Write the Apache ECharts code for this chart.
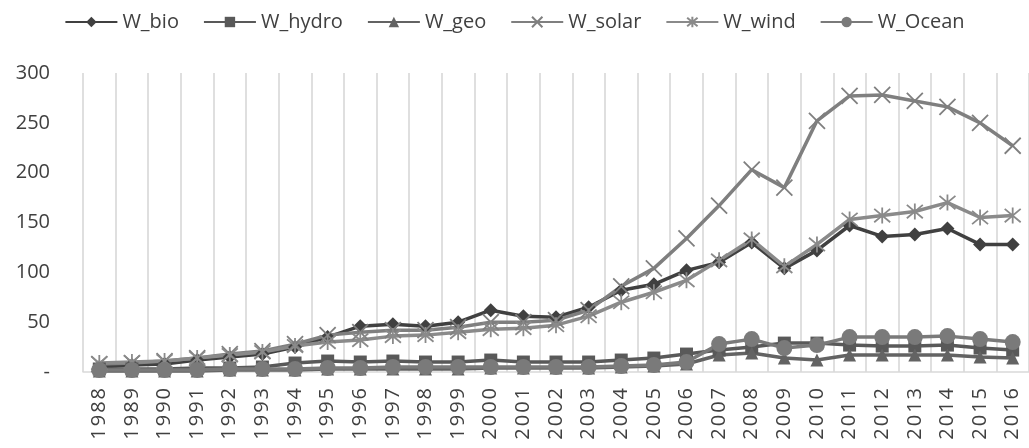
<!DOCTYPE html>
<html>
<head>
<meta charset="utf-8">
<script src="https://cdn.jsdelivr.net/npm/echarts@6/dist/echarts.min.js"></script>
<style>
  html, body { margin: 0; padding: 0; background: #fff; }
  #chart { width: 1029px; height: 448px; }
</style>
</head>
<body>
<div id="chart"></div>
<script>
// ─── Data ───────────────────────────────────────────────────────────────────
const years = [
  '1988', '1989', '1990', '1991', '1992', '1993', '1994', '1995', '1996', '1997',
  '1998', '1999', '2000', '2001', '2002', '2003', '2004', '2005', '2006', '2007',
  '2008', '2009', '2010', '2011', '2012', '2013', '2014', '2015', '2016',
];

const wBio   = [5, 7, 8, 12, 15, 18, 25, 35, 46, 48, 46, 50, 62, 56, 55, 65, 82, 88, 102, 110, 130, 104, 122, 147, 136, 138, 144, 128, 128];
const wHydro = [3, 3, 3, 4, 4, 5, 9, 11, 10, 11, 10, 10, 12, 10, 10, 10, 12, 14, 18, 22, 25, 29, 29, 27, 26, 26, 27, 24, 22];
const wGeo   = [1, 1, 1, 1, 2, 2, 2, 3, 3, 3, 3, 3, 4, 4, 4, 4, 5, 6, 8, 17, 19, 14, 12, 17, 17, 17, 17, 15, 14];
const wSolar = [8, 9, 11, 14, 18, 21, 28, 37, 40, 42, 42, 45, 50, 50, 52, 62, 86, 104, 134, 167, 203, 185, 252, 277, 278, 272, 266, 250, 227];
const wWind  = [9, 10, 11, 14, 17, 20, 26, 30, 32, 36, 37, 40, 43, 44, 47, 56, 70, 80, 92, 112, 133, 106, 128, 153, 157, 161, 170, 155, 157];
const wOcean = [2, 2, 2, 2, 3, 3, 3, 4, 4, 5, 5, 5, 5, 5, 5, 5, 6, 7, 10, 28, 33, 24, 27, 35, 35, 35, 36, 33, 30];

const yTicks = [0, 50, 100, 150, 200, 250, 300];

// ─── Styling ────────────────────────────────────────────────────────────────
const FONT = '"Open Sans", "Liberation Sans", Arial, sans-serif';
const X_PATH = 'path://M0,0L10,10M10,0L0,10';
const STAR_PATH = 'path://M0,0L10,10M10,0L0,10M5,-1L5,11';

function filled(name, data, color, symbol, size) {
  return {
    name, type: 'line', data,
    symbol, symbolSize: size, showAllSymbol: true,
    lineStyle: { color, width: 3.5 },
    itemStyle: { color },
    emphasis: { disabled: true },
  };
}

function stroked(name, data, color, symbol, size) {
  return {
    name, type: 'line', data,
    symbol, symbolSize: size, showAllSymbol: true,
    lineStyle: { color, width: 3.5 },
    itemStyle: { color: 'rgba(0,0,0,0)', borderColor: color, borderWidth: 1.8 },
    emphasis: { disabled: true },
  };
}

const chart = echarts.init(document.getElementById('chart'), null, { renderer: 'canvas' });

chart.setOption({
  animation: false,
  backgroundColor: '#ffffff',
  textStyle: { fontFamily: FONT },
  legend: {
    top: 7,
    left: 'center',
    itemWidth: 52,
    itemHeight: 13,
    itemGap: 24,
    textStyle: { fontFamily: FONT, fontSize: 20, color: '#404040' },
  },
  grid: { left: 83, right: -8, top: 73, bottom: 76, containLabel: false },
  xAxis: {
    type: 'category',
    data: years,
    boundaryGap: true,
    axisLine: { show: true, lineStyle: { color: '#d9d9d9', width: 1.5 } },
    axisTick: { show: false },
    splitLine: { show: true, lineStyle: { color: '#d4d4d4', width: 1.5 } },
    axisLabel: {
      rotate: 90,
      interval: 0,
      margin: 16,
      fontFamily: FONT,
      fontSize: 20,
      color: '#404040',
      formatter: (v) => v.split('').join('\u200A'),
    },
  },
  yAxis: {
    type: 'value',
    min: yTicks[0],
    max: yTicks[yTicks.length - 1],
    interval: yTicks[1] - yTicks[0],
    axisLine: { show: false },
    axisTick: { show: false },
    splitLine: { show: false },
    axisLabel: {
      margin: 33,
      fontFamily: FONT,
      fontSize: 20,
      color: '#404040',
      formatter: (v) => (v === 0 ? '-' : String(v)),
    },
  },
  series: [
    filled('W_bio', wBio, '#404040', 'diamond', 14),
    filled('W_hydro', wHydro, '#595959', 'rect', 13),
    filled('W_geo', wGeo, '#636363', 'triangle', 13),
    stroked('W_solar', wSolar, '#7f7f7f', X_PATH, 16),
    stroked('W_wind', wWind, '#8a8a8a', STAR_PATH, 16),
    filled('W_Ocean', wOcean, '#7a7a7a', 'circle', 16),
  ],
});
</script>
</body>
</html>
